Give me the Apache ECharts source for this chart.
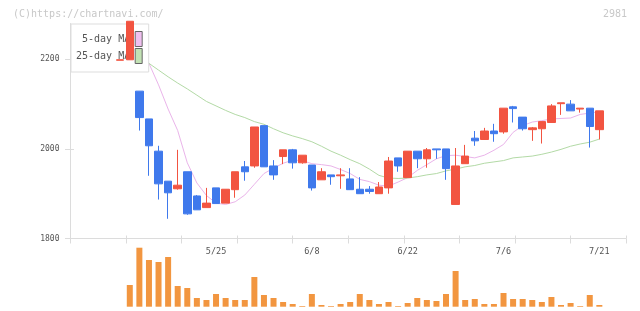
<!DOCTYPE html>
<html>
<head>
<meta charset="utf-8">
<script src="https://cdn.jsdelivr.net/npm/echarts@6/dist/echarts.min.js"></script>
<style>
  html, body { margin: 0; padding: 0; background: #fff; }
  #chart { width: 640px; height: 311px; }
</style>
</head>
<body>
<div id="chart"></div>
<script>
// daily bars, 5/11 .. 7/21
const dates = [
  '5/11', '5/12', '5/15', '5/16', '5/17', '5/18', '5/19', '5/22', '5/23', '5/24',
  '5/25', '5/26', '5/29', '5/30', '5/31', '6/1', '6/2', '6/5', '6/6', '6/7',
  '6/8', '6/9', '6/12', '6/13', '6/14', '6/15', '6/16', '6/19', '6/20', '6/21',
  '6/22', '6/23', '6/26', '6/27', '6/28', '6/29', '6/30', '7/3', '7/4', '7/5',
  '7/6', '7/7', '7/10', '7/11', '7/12', '7/13', '7/14', '7/18', '7/19', '7/20',
  '7/21'
];
const opens = [
  2198, 2199, 2129, 2067, 1995, 1928, 1911, 1949, 1895, 1869,
  1913, 1879, 1909, 1960, 1962, 2052, 1962, 1983, 1998, 1969,
  1964, 1931, 1942, 1940, 1933, 1910, 1910, 1900, 1913, 1980,
  1936, 1995, 1978, 2000, 2000, 1876, 1967, 2024, 2021, 2040,
  2038, 2094, 2071, 2043, 2045, 2059, 2101, 2100, 2089, 2091,
  2043
];
const closes = [
  2199, 2285, 2070, 2007, 1922, 1902, 1919, 1855, 1864, 1879,
  1878, 1910, 1949, 1949, 2049, 1960, 1942, 1998, 1969, 1986,
  1913, 1949, 1938, 1942, 1909, 1900, 1905, 1915, 1973, 1962,
  1995, 1978, 1998, 1998, 1956, 1962, 1984, 2018, 2040, 2034,
  2091, 2090, 2045, 2047, 2061, 2096, 2103, 2085, 2091, 2050,
  2085
];
const lows = [
  2198, 2199, 2041, 1940, 1887, 1844, 1909, 1853, 1864, 1869,
  1878, 1879, 1891, 1929, 1958, 1960, 1931, 1966, 1956, 1967,
  1907, 1931, 1920, 1911, 1909, 1900, 1900, 1900, 1900, 1949,
  1936, 1957, 1958, 1978, 1931, 1876, 1967, 2007, 2021, 2016,
  2034, 2059, 2041, 2018, 2012, 2059, 2076, 2085, 2081, 2003,
  2021
];
const highs = [
  2199, 2285, 2129, 2067, 2007, 1928, 1998, 1949, 1897, 1913,
  1913, 1910, 1949, 1973, 2049, 2052, 1975, 1998, 2000, 1986,
  1964, 1957, 1942, 1957, 1957, 1937, 1917, 1926, 1982, 1980,
  1995, 1995, 2002, 2000, 2000, 2002, 2009, 2040, 2047, 2056,
  2091, 2096, 2071, 2049, 2061, 2100, 2103, 2109, 2091, 2091,
  2085
];
const volumes = [
  0, 21700, 59000, 46700, 44700, 49700, 20700, 18700, 8700, 6700,
  12700, 8700, 6700, 6700, 29700, 11700, 8700, 4700, 2700, 700,
  12700, 1700, 700, 2700, 4700, 12700, 6700, 2700, 4700, 700,
  3700, 8700, 6700, 5700, 12700, 35700, 6700, 7700, 2700, 2700,
  13700, 7700, 7700, 6700, 4700, 9700, 1700, 3700, 700, 11700,
  1700
];
const ma5 = [
  2220, 2225, 2215, 2191, 2143, 2089, 2041, 1969, 1924, 1896,
  1879, 1876, 1882, 1897, 1921, 1945, 1957, 1968, 1975, 1974,
  1967, 1965, 1962, 1954, 1945, 1932, 1927, 1919, 1917, 1926,
  1936, 1952, 1965, 1978, 1985, 1986, 1983, 1980, 1986, 1997,
  2010, 2037, 2052, 2060, 2063, 2067, 2068, 2069, 2077, 2080,
  2083
];
const ma25 = [
  2215, 2208, 2200, 2191, 2176, 2161, 2147, 2134, 2120, 2106,
  2096, 2086, 2077, 2070, 2061, 2055, 2045, 2036, 2029, 2023,
  2016, 2006, 1995, 1986, 1976, 1967, 1955, 1941, 1935, 1934,
  1935, 1938, 1942, 1945, 1951, 1955, 1960, 1963, 1968, 1971,
  1974, 1980, 1982, 1984, 1988, 1993, 1999, 2006, 2011, 2015,
  2022
];
const tickLabels = ['5/25', '6/8', '6/22', '7/6', '7/21'];
const priceTicks = [1800, 2000, 2200];

const RED = '#f25441';
const BLUE = '#3f79ec';
const AXIS = '#dcdcdc';
const FONT = 'DejaVu Sans Mono';

// empty slots either side so the bars sit where the reference puts them
const PAD_L = 5, PAD_R = 2;
const categories = [];
for (let i = 0; i < PAD_L; i++) categories.push('l' + i);
dates.forEach(d => categories.push(d));
for (let i = 0; i < PAD_R; i++) categories.push('r' + i);
const pad = (arr, empty) =>
  Array(PAD_L).fill(empty).concat(arr, Array(PAD_R).fill(empty));

const candles = pad(opens.map((o, i) => [o, closes[i], lows[i], highs[i]]), ['-', '-', '-', '-']);

const chart = echarts.init(document.getElementById('chart'), null, { renderer: 'canvas' });

const frameX = (inside) => ({
  gridIndex: 0, type: 'value', min: 0, max: 10, interval: 1, position: 'bottom',
  axisLine: { show: !inside, lineStyle: { color: AXIS } },
  axisTick: { inside, length: inside ? 3 : 5, lineStyle: { color: AXIS } },
  axisLabel: { show: false },
  splitLine: { show: false }
});
const frameY = (inside) => ({
  gridIndex: 0, type: 'value', min: 1800, max: 2280, position: 'left',
  axisLine: { show: !inside, lineStyle: { color: AXIS } },
  axisTick: { inside, length: inside ? 3.5 : 5.5, customValues: priceTicks, lineStyle: { color: AXIS } },
  axisLabel: {
    show: !inside, customValues: priceTicks, margin: 11,
    formatter: v => String(v),
    fontFamily: FONT, fontSize: 8, color: '#555'
  },
  splitLine: { show: false }
});

chart.setOption({
  animation: false,
  backgroundColor: '#fff',
  title: [
    {
      text: '(C)https://chartnavi.com/', left: 13, top: 9, padding: 0,
      textStyle: { fontFamily: FONT, fontSize: 10, fontWeight: 'normal', color: '#c8c8c8' }
    },
    {
      text: '2981', right: 13, top: 9, padding: 0,
      textStyle: { fontFamily: FONT, fontSize: 10, fontWeight: 'normal', color: '#c8c8c8' }
    }
  ],
  legend: {
    orient: 'vertical', left: 71, top: 24, align: 'right',
    padding: [7, 6, 8, 5], itemGap: 1, itemWidth: 7, itemHeight: 15,
    backgroundColor: '#fff', borderColor: '#ddd', borderWidth: 1,
    selectedMode: false, z: 4,
    textStyle: { fontFamily: FONT, fontSize: 10, color: '#555' },
    data: [
      { name: '5-day MA', icon: 'rect', itemStyle: { color: '#f0c0f0', borderColor: '#666', borderWidth: 1 } },
      { name: '25-day MA', icon: 'rect', itemStyle: { color: '#c2e2b4', borderColor: '#666', borderWidth: 1 } }
    ]
  },
  grid: [
    { left: 70.5, right: 14, top: 23.5, bottom: 72.5 },
    { left: 67.5, right: 16.7, top: 23.5, bottom: 72.5 },
    { left: 67.5, right: 16.7, top: 244.7, bottom: 4.3 }
  ],
  xAxis: [
    frameX(false),
    frameX(true),
    {
      gridIndex: 1, type: 'category', data: categories,
      axisLine: { show: false }, axisTick: { show: false },
      axisLabel: {
        interval: (i, v) => tickLabels.includes(v), margin: 9,
        fontFamily: FONT, fontSize: 8.5, color: '#555'
      }
    },
    {
      gridIndex: 2, type: 'category', data: categories, show: false
    }
  ],
  yAxis: [
    frameY(false),
    frameY(true),
    { gridIndex: 1, type: 'value', min: 1800, max: 2280, show: false },
    { gridIndex: 2, type: 'value', min: 0, max: 62000, show: false }
  ],
  series: [
    {
      name: '5-day MA', type: 'line', xAxisIndex: 2, yAxisIndex: 2,
      data: pad(ma5, '-'), symbol: 'none', z: 2,
      itemStyle: { color: '#f0c0f0' },
      lineStyle: { color: '#eab4ea', width: 1 }
    },
    {
      name: '25-day MA', type: 'line', xAxisIndex: 2, yAxisIndex: 2,
      data: pad(ma25, '-'), symbol: 'none', z: 2,
      itemStyle: { color: '#c2e2b4' },
      lineStyle: { color: '#b3daa6', width: 1 }
    },
    {
      name: 'price', type: 'candlestick', xAxisIndex: 2, yAxisIndex: 2,
      data: candles, barWidth: 8, z: 5,
      itemStyle: {
        color: RED, color0: BLUE,
        borderColor: RED, borderColor0: BLUE, borderWidth: 1
      }
    },
    {
      name: 'volume', type: 'bar', xAxisIndex: 3, yAxisIndex: 3,
      data: pad(volumes, '-'), barWidth: 6,
      itemStyle: { color: '#f29640' }
    }
  ]
});
</script>
</body>
</html>
